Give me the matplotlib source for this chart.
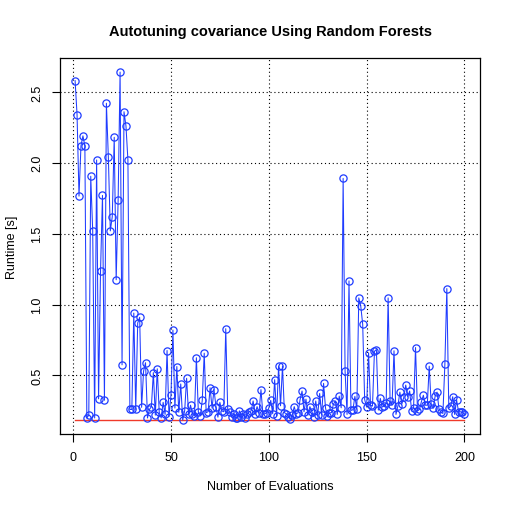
#!/usr/bin/env python3
"""Runtime of each evaluation during autotuning, R base-graphics look."""

import numpy as np
import matplotlib
matplotlib.use("Agg")
import matplotlib.pyplot as plt

# Data (runtime in seconds for evaluations 1..200)
runtime = [
    2.58, 2.34, 1.765, 2.12, 2.19, 2.12, 0.20, 0.22, 1.905, 1.52,
    0.20, 2.02, 0.335, 1.235, 1.77, 0.325, 2.42, 2.04, 1.52, 1.62,
    2.18, 1.175, 1.74, 2.64, 0.575, 2.36, 2.26, 2.02, 0.26, 0.26,
    0.94, 0.26, 0.87, 0.91, 0.275, 0.53, 0.59, 0.20, 0.26, 0.28,
    0.52, 0.22, 0.547, 0.24, 0.20, 0.31, 0.225, 0.676, 0.21, 0.36,
    0.82, 0.27, 0.563, 0.24, 0.44, 0.185, 0.25, 0.48, 0.225, 0.29,
    0.23, 0.215, 0.625, 0.24, 0.215, 0.325, 0.657, 0.237, 0.245, 0.413,
    0.27, 0.40, 0.28, 0.206, 0.31, 0.25, 0.244, 0.83, 0.263, 0.245,
    0.206, 0.23, 0.20, 0.20, 0.25, 0.21, 0.23, 0.20, 0.23, 0.244,
    0.25, 0.32, 0.225, 0.28, 0.237, 0.40, 0.225, 0.23, 0.237, 0.27,
    0.324, 0.23, 0.47, 0.216, 0.565, 0.286, 0.565, 0.237, 0.23, 0.21,
    0.19, 0.22, 0.28, 0.23, 0.237, 0.33, 0.39, 0.244, 0.333, 0.22,
    0.28, 0.244, 0.21, 0.32, 0.22, 0.373, 0.22, 0.444, 0.27, 0.213,
    0.237, 0.237, 0.296, 0.32, 0.225, 0.354, 0.272, 1.89, 0.53, 0.225,
    1.167, 0.253, 0.258, 0.352, 0.263, 1.047, 0.99, 0.86, 0.33, 0.277,
    0.66, 0.29, 0.284, 0.67, 0.683, 0.256, 0.338, 0.277, 0.284, 0.307,
    1.047, 0.32, 0.29, 0.674, 0.225, 0.286, 0.382, 0.298, 0.345, 0.432,
    0.35, 0.39, 0.25, 0.272, 0.697, 0.25, 0.26, 0.315, 0.36, 0.29,
    0.29, 0.565, 0.296, 0.268, 0.352, 0.382, 0.263, 0.24, 0.232, 0.58,
    1.113, 0.27, 0.284, 0.35, 0.225, 0.326, 0.244, 0.244, 0.24, 0.225,
]
x_ticks = [0, 50, 100, 150, 200]
y_ticks = [0.5, 1.0, 1.5, 2.0, 2.5]
y_tick_labels = ["0.5", "1.0", "1.5", "2.0", "2.5"]

TITLE = "Autotuning covariance Using Random Forests"
XLABEL = "Number of Evaluations"
YLABEL = "Runtime [s]"

BLUE = "#1f3cff"
RED = "#f03a2a"


def main():
    plt.rcParams["font.family"] = ["Liberation Sans", "DejaVu Sans"]

    evals = np.arange(1, len(runtime) + 1)
    best = min(runtime)

    fig = plt.figure(figsize=(5.1, 5.1), dpi=100)
    fig.patch.set_facecolor("white")
    ax = fig.add_axes([0.1167, 0.147, 0.8245, 0.737])

    # R-style 4% axis extension
    xr = evals[-1] - evals[0]
    yr = max(runtime) - best
    ax.set_xlim(evals[0] - 0.04 * xr, evals[-1] + 0.04 * xr)
    ax.set_ylim(best - 0.04 * yr, max(runtime) + 0.04 * yr)

    # grid
    for xv in x_ticks:
        ax.axvline(xv, color="black", linestyle=(0, (1, 2.5)), linewidth=0.8, zorder=1)
    for yv in y_ticks:
        ax.axhline(yv, color="black", linestyle=(0, (1, 2.5)), linewidth=0.8, zorder=1)

    # best runtime line
    ax.plot([evals[0], evals[-1]], [best, best], color=RED, linewidth=1.0, zorder=2)

    ax.plot(evals, runtime, color=BLUE, linewidth=0.75, marker="o",
            markersize=5.2, markerfacecolor="none", markeredgecolor=BLUE,
            markeredgewidth=0.9, zorder=3)

    ax.set_xticks(x_ticks)
    ax.set_xticklabels([str(v) for v in x_ticks])
    ax.set_yticks(y_ticks)
    ax.set_yticklabels(y_tick_labels, rotation=90, va="center")
    ax.tick_params(direction="out", length=5.5, width=0.8, colors="black",
                   labelsize=9)
    ax.tick_params(axis="x", pad=7)
    ax.tick_params(axis="y", pad=6)
    for s in ax.spines.values():
        s.set_color("black")
        s.set_linewidth(0.9)

    fig.text(0.53, 1 - 32 / 510, TITLE, ha="center", va="center",
             fontsize=10.5, fontweight="bold")
    fig.text(0.53, 1 - 487 / 510, XLABEL, ha="center", va="center", fontsize=9)
    fig.text(12 / 510, 0.515, YLABEL, ha="center", va="center", fontsize=9,
             rotation=90)

    fig.savefig("out.png", dpi=100, facecolor="white")
    plt.close(fig)


if __name__ == "__main__":
    main()
